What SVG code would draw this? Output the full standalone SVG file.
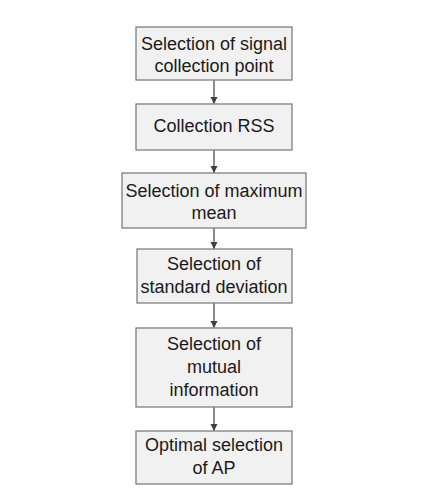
<svg xmlns="http://www.w3.org/2000/svg" width="421" height="495" viewBox="0 0 421 495">
<style>
.box{fill:#f1f1f1;stroke:#7f7f7f;stroke-width:1.3}
.t{font-family:"Liberation Sans",Arial,sans-serif;font-size:18px;fill:#1a1a1a;text-anchor:middle}
.c{stroke:#404040;stroke-width:1.2;fill:none;marker-end:url(#ah)}
</style>
<defs>
<marker id="ah" markerWidth="8" markerHeight="8" refX="7" refY="4" orient="auto" markerUnits="userSpaceOnUse">
<path d="M0,0.5 L7,4 L0,7.5 Z" fill="#404040"/>
</marker>
</defs>
<rect width="421" height="495" fill="#fff"/>
<g id="connectors">
<line class="c" x1="214" y1="80" x2="214" y2="104"/>
<line class="c" x1="214" y1="150" x2="214" y2="173"/>
<line class="c" x1="214" y1="228" x2="214" y2="249"/>
<line class="c" x1="214" y1="303" x2="214" y2="328"/>
<line class="c" x1="214" y1="407" x2="214" y2="431"/>
</g>
<g id="n1"><rect class="box" x="136" y="27" width="156" height="53"/>
<text class="t" x="214" y="50">Selection of signal</text><text class="t" x="214" y="72">collection point</text></g>
<g id="n2"><rect class="box" x="136" y="104" width="156" height="46"/>
<text class="t" x="214" y="132">Collection RSS</text></g>
<g id="n3"><rect class="box" x="122" y="173" width="184" height="55"/>
<text class="t" x="214" y="197">Selection of maximum</text><text class="t" x="214" y="219">mean</text></g>
<g id="n4"><rect class="box" x="137" y="249" width="155" height="54"/>
<text class="t" x="214" y="270">Selection of</text><text class="t" x="214" y="293">standard deviation</text></g>
<g id="n5"><rect class="box" x="136" y="328" width="156" height="79"/>
<text class="t" x="214" y="350">Selection of</text><text class="t" x="214" y="373">mutual</text><text class="t" x="214" y="396">information</text></g>
<g id="n6"><rect class="box" x="136" y="431" width="156" height="53"/>
<text class="t" x="214" y="451">Optimal selection</text><text class="t" x="214" y="474">of AP</text></g>
</svg>
